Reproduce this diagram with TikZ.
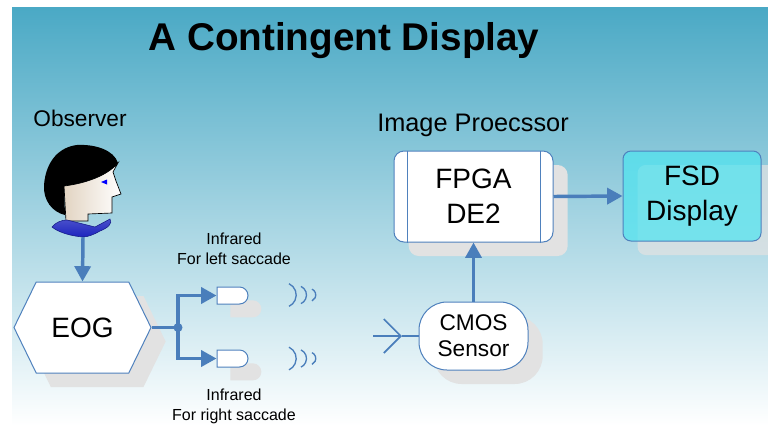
\documentclass[tikz,border=0pt]{standalone}
\usepackage{fontspec}
\setmainfont{Liberation Sans}
\usetikzlibrary{positioning, arrows.meta, shapes.symbols, shapes.misc, shadows}

\definecolor{paneltop}{RGB}{74,169,197}
\definecolor{panelmid}{RGB}{178,213,226}
\definecolor{linkblue}{RGB}{74,126,187}
\definecolor{edgeblue}{RGB}{79,129,189}
\definecolor{shadowgray}{RGB}{226,226,226}
\definecolor{screencyan}{RGB}{80,228,240}
\definecolor{skin}{RGB}{226,212,194}
\definecolor{collarblue}{RGB}{28,36,190}

\begin{document}
\begin{tikzpicture}[
    x=0.75pt, y=-0.75pt,
    every node/.style={font=\fontsize{12}{15}\selectfont, align=center},
    boxshadow/.style={copy shadow={shadow xshift=11pt, shadow yshift=-10.5pt, draw=none, fill=shadowgray}},
    hexbox/.style={signal, signal to=east and west, signal pointer angle=128, draw=edgeblue, line width=0.75pt, fill=white, minimum width=102.75pt, minimum height=68.25pt, inner sep=0pt, font=\fontsize{21}{27}\selectfont, boxshadow},
    emitter/.style={rounded rectangle, rounded rectangle left arc=none, draw=edgeblue, line width=0.75pt, fill=white, minimum width=23.25pt, minimum height=12.75pt, inner sep=0pt, copy shadow={shadow xshift=10pt, shadow yshift=-10pt, draw=none, fill=shadowgray, minimum width=25pt}},
    sensor/.style={rectangle, rounded corners=21pt, draw=edgeblue, line width=0.75pt, fill=white, minimum width=81.75pt, minimum height=51pt, font=\fontsize{17}{19.5}\selectfont, boxshadow},
    procbox/.style={rectangle, rounded corners=7.5pt, draw=edgeblue, line width=0.75pt, fill=white, minimum width=119.25pt, minimum height=68.25pt, font=\fontsize{21}{26}\selectfont, boxshadow},
    screen/.style={rectangle, rounded corners=6pt, draw=edgeblue, line width=0.75pt, fill=screencyan, fill opacity=0.72, text opacity=1, minimum width=103.5pt, minimum height=67.5pt, font=\fontsize{21}{26}\selectfont, boxshadow},
    heading/.style={font=\fontsize{17}{21}\selectfont},
    note/.style={font=\fontsize{12}{15}\selectfont},
    link/.style={draw=linkblue, line width=2.6pt, -{Triangle[length=11.5pt, width=12pt]}},
    wire/.style={draw=linkblue, line width=2.6pt},
    wave/.style={draw=linkblue, line width=1pt}
]
\useasboundingbox (0,0) rectangle (768,426);

% background panel
\shade[top color=paneltop, middle color=panelmid, bottom color=white] (12,7) rectangle (768,426);

% titles
\node[font=\fontsize{29}{34}\selectfont\bfseries] (title) at (344,41) {A Contingent Display};
\node[heading] (observer) at (80,118) {Observer};
\node[heading, font=\fontsize{19}{23}\selectfont] (improc) at (473,125) {Image Proecssor};

% observer head
\shade[left color=skin, right color=white, draw=black, line width=0.5pt]
    (64,186) .. controls (80,184) and (105,178) .. (118,163) -- (113,172) -- (116,181) -- (121,194)
    -- (112,197) -- (112,213) -- (88,214) -- (88,221) -- (66,221) -- cycle;
\fill[black] (77,145) .. controls (60,147) and (46,160) .. (44,185) .. controls (43,200) and (52,212) .. (65,215)
    -- (64,186) .. controls (80,184) and (105,178) .. (118,163) .. controls (114,150) and (95,144) .. (77,145) -- cycle;
\fill[blue] (101,182) -- (107,179.5) -- (107,184.5) -- cycle;
\shade[top color=collarblue!80!white, bottom color=collarblue, draw=collarblue!70!black, line width=0.4pt]
    (52,227) .. controls (56,222) and (62,220) .. (67,220) -- (95,227) -- (110,219)
    .. controls (113,223) and (108,228) .. (100,231) .. controls (95,234) and (88,237) .. (83,237)
    .. controls (70,236) and (58,232) .. (52,227) -- cycle;
\coordinate (neck) at (83,237);

% eye signal path
\node[hexbox] (eog) at (82.5,327.5) {EOG};
\coordinate (split) at (178,327.5);
\node[emitter] (irleft) at (232.5,295.5) {};
\node[emitter] (irright) at (232.5,358.5) {};
\node[note] (irleftlbl) at (234,249) {Infrared\\For left saccade};
\node[note] (irrightlbl) at (234,406) {Infrared\\For right saccade};

\draw[link] (neck) -- (eog.north);
\draw[wire] (eog.east) -- (split);
\fill[linkblue] (split) circle[radius=4.5];
\draw[link] (split) |- (irleft.west);
\draw[link] (split) |- (irright.west);

% infrared waves
\foreach \cy in {295,358.5}
  \foreach \r/\lx in {12.5/289, 9.5/301, 6.5/312}
    \draw[wave] (\lx,\cy) ++(0,{-0.906*\r}) arc[start angle=-65, end angle=65, radius=\r];

% sensor and processing
\node[sensor] (cmos) at (473.5,336) {CMOS\\Sensor};
\node[procbox] (fpga) at (473.5,196.5) {FPGA\\DE2};
\draw[edgeblue, line width=0.75pt] ([xshift=10.5pt]fpga.north west) -- ([xshift=10.5pt]fpga.south west);
\draw[edgeblue, line width=0.75pt] ([xshift=-9.75pt]fpga.north east) -- ([xshift=-9.75pt]fpga.south east);
\node[screen] (fsd) at (692,196) {FSD\\Display};

\coordinate (lens) at (373,336);
\coordinate (lenstip) at (402,336);
\draw[draw=linkblue, line width=1.3pt, -{Straight Barb[length=12.75pt, width=25.5pt]}] (lens) -- (lenstip);
\draw[draw=linkblue, line width=1.3pt] (lenstip) -- (cmos.west);

\draw[link] (cmos.north) -- (fpga.south);
\draw[link] (fpga.east) -- (fsd.west);

\end{tikzpicture}
\end{document}
